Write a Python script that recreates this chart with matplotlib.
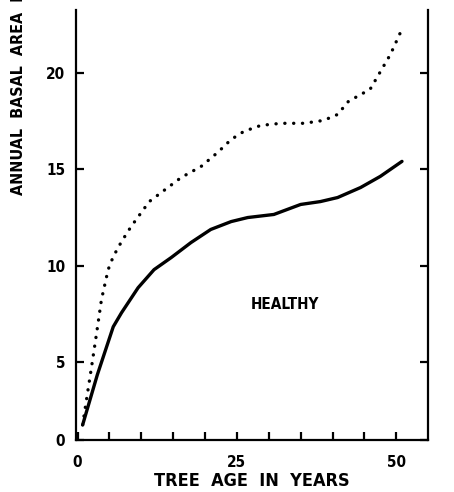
import matplotlib.pyplot as plt

# Values (tree age in years, basal area increment)
age_solid = [0.8, 3.1, 5.6, 6.9, 9.5, 12.0, 14.7, 17.8, 20.9, 24.1, 26.7, 30.8,
             35.0, 38.1, 40.8, 44.4, 47.5, 50.9]
area_solid = [1.72, 4.32, 6.82, 7.55, 8.85, 9.79, 10.42, 11.2, 11.88, 12.29, 12.5,
              12.66, 13.18, 13.33, 13.54, 14.06, 14.64, 15.42]

age_dotted = [0.8, 1.4, 2.2, 3.0, 3.75, 4.8, 5.6, 6.9, 8.4, 10.0, 11.25, 16.25,
              19.4, 22.0, 24.1, 26.1, 28.75, 31.9, 35.5, 38.6, 40.8, 42.5, 45.9,
              49.1, 50.9]
area_dotted = [1.72, 3.02, 4.74, 6.51, 8.23, 9.79, 10.47, 11.25, 12.03, 12.76,
               13.33, 14.58, 15.16, 15.89, 16.56, 16.98, 17.29, 17.4, 17.4, 17.55,
               17.86, 18.54, 19.17, 20.99, 22.3]

x_ticks = [0, 5, 10, 15, 20, 25, 30, 35, 40, 45, 50]
x_labels = ['0', '', '', '', '', '25', '', '', '', '', '50']
y_ticks = [0.94, 5, 10, 15, 20]
y_labels = ['0', '5', '10', '15', '20']

font = dict(family='DejaVu Sans', stretch='condensed', weight='bold')

fig = plt.figure(figsize=(4.54, 4.92), dpi=100)
ax = fig.add_axes([0.168, 0.106, 0.775, 0.874])

ax.plot(age_solid, area_solid, color='black', lw=2.4, solid_capstyle='round')
ax.plot(age_dotted, area_dotted, color='black', lw=2.4,
        linestyle=(0, (0.05, 2.6)), dash_capstyle='round')

ax.set_xlim(-0.2, 55)
ax.set_ylim(0.94, 23.3)
ax.spines['top'].set_visible(False)
for s in ['left', 'right', 'bottom']:
    ax.spines[s].set_linewidth(1.6)

ax.set_xticks(x_ticks)
ax.set_xticklabels(x_labels, fontsize=11, **font)
ax.set_yticks(y_ticks)
ax.set_yticklabels(y_labels, fontsize=11, **font)
ax.tick_params(axis='both', direction='in', length=6, width=1.6)
ax.tick_params(axis='x', pad=11)
ax.tick_params(axis='y', pad=8, right=True)

ax.text(32.5, 7.97, 'HEALTHY', ha='center', va='center', fontsize=11, **font)

ax.set_xlabel('TREE  AGE  IN  YEARS', fontsize=13, labelpad=1, **font)
fig.text(0.04, 1 - 195 / 492, 'ANNUAL  BASAL  AREA  INCREMENT', rotation=90,
         ha='center', va='bottom', fontsize=11.5, **font)

fig.savefig('out.png', dpi=100)
